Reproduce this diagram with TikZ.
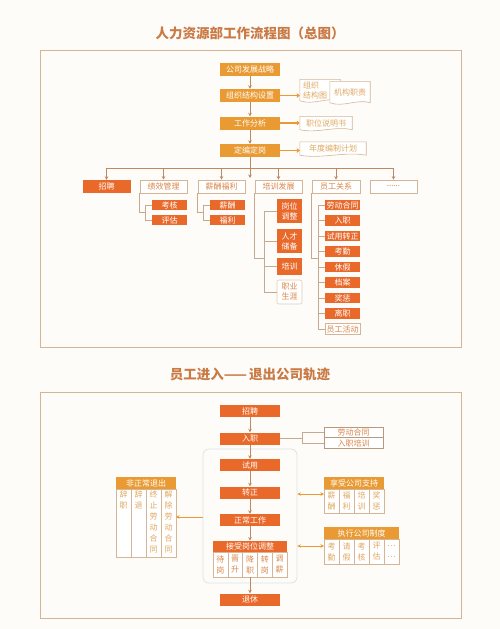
\documentclass[tikz,border=0pt]{standalone}
\usepackage{fontspec}
\setmainfont{Noto Sans CJK SC}
\usepackage{tikz}
\usetikzlibrary{arrows.meta,positioning,calc}
\definecolor{amber}{HTML}{E99A32}
\definecolor{redor}{HTML}{E8692A}
\definecolor{tanline}{HTML}{D6B596}
\definecolor{linkcol}{HTML}{C08860}
\definecolor{titlecol}{HTML}{C97A45}
\definecolor{boxtext}{HTML}{D9874A}
\definecolor{doctext}{HTML}{E0A860}
\definecolor{bgcol}{HTML}{FDFCF9}

\begin{document}
\begin{tikzpicture}[x=1pt,y=-1pt,>={Stealth[length=3.5pt,width=3.5pt]},
    every node/.style={font=\fontsize{8}{10}\selectfont,inner sep=0pt},
    ambox/.style={fill=amber,text=white,minimum width=60,minimum height=13},
    redbox/.style={fill=redor,text=white,minimum width=60,minimum height=12},
    catbox/.style={draw=tanline,fill=white,text=boxtext,minimum width=47,minimum height=13,line width=0.7pt},
    subbox/.style={fill=redor,text=white,minimum width=35,minimum height=10.5},
    docnode/.style={text=doctext,align=left},
    cell/.style={draw=tanline,fill=white,text=doctext,minimum width=15,align=center,line width=0.6pt,font=\fontsize{8}{11}\selectfont},
    frame/.style={draw=tanline,line width=0.8pt},
    link/.style={draw=linkcol,line width=0.6pt},
    tree/.style={draw=tanline!80!gray,line width=0.7pt},
    fat/.style={draw=amber,line width=1.6pt,-{Triangle[length=3pt,width=4.5pt]}}]

    \fill[bgcol] (0,0) rectangle (500,629);
    \useasboundingbox (0,0) rectangle (500,629);

    % ---- part one
    \node[text=titlecol,font=\fontsize{13.5}{15}\selectfont\bfseries] (title1) at (250,33) {人力资源部工作流程图（总图）};
    \draw[frame] (40,50) rectangle (461,347);

    \node[ambox] (strategy) at (250,69.5) {公司发展战略};
    \node[ambox] (orgset) at (250,95.5) {组织结构设置};
    \node[ambox] (jobana) at (250,123) {工作分析};
    \node[ambox] (quota) at (250,150.5) {定编定岗};

    \draw[link,->] (strategy) -- (orgset);
    \draw[link,->] (orgset) -- (jobana);
    \draw[link,->] (jobana) -- (quota);

    % documents on the right
    \node[minimum width=40,minimum height=21] (chartdoc) at (320,90) {};
    \draw[tanline,fill=white,line width=0.6pt] (chartdoc.south west) -- (chartdoc.north west) -- (chartdoc.north east) -- (chartdoc.south east) .. controls +(-13,-4) and +(13,5) .. (chartdoc.south west);
    \node[docnode] at (chartdoc) {\makebox[34pt][l]{组织}\\\makebox[34pt][l]{结构图}};
    \node[minimum width=40,minimum height=21] (dutydoc) at (350,92) {};
    \draw[tanline,fill=white,line width=0.6pt] (dutydoc.south west) -- (dutydoc.north west) -- (dutydoc.north east) -- (dutydoc.south east) .. controls +(-13,-4) and +(13,5) .. (dutydoc.south west);
    \node[docnode] at (dutydoc) {机构职责};
    \node[minimum width=52,minimum height=13] (specdoc) at (326,123) {};
    \draw[tanline,fill=white,line width=0.6pt] (specdoc.south west) -- (specdoc.north west) -- (specdoc.north east) -- (specdoc.south east) .. controls +(-17,-4) and +(17,4) .. (specdoc.south west);
    \node[docnode] at (specdoc) {职位说明书};
    \node[minimum width=66,minimum height=13] (plandoc) at (333,148.5) {};
    \draw[tanline,fill=white,line width=0.6pt] (plandoc.south west) -- (plandoc.north west) -- (plandoc.north east) -- (plandoc.south east) .. controls +(-22,-4) and +(22,4) .. (plandoc.south west);
    \node[docnode] at (plandoc) {年度编制计划};

    \draw[fat] (orgset.east) -- (chartdoc.west |- orgset.east);
    \draw[fat] (jobana.east) -- (specdoc.west |- jobana.east);
    \draw[fat] (quota.east) -- (plandoc.west |- quota.east);

    % bus to the six fields
    \coordinate (bus1) at (106.5,168);
    \coordinate (bus2) at (163.5,168);
    \coordinate (bus3) at (221.5,168);
    \coordinate (bus4) at (278.5,168);
    \coordinate (bus5) at (336,168);
    \coordinate (bus6) at (393.5,168);
    \coordinate (trunk) at (250,178);
    \draw[link] (bus1) -- (bus6);
    \draw[link,->] (quota) -- (trunk);

    \node[redbox,minimum width=48,minimum height=13] (recruit) at (106.5,186.5) {招聘};
    \node[catbox] (perf) at (163.5,186.5) {绩效管理};
    \node[catbox] (pay) at (221.5,186.5) {薪酬福利};
    \node[catbox] (train) at (278.5,186.5) {培训发展};
    \node[catbox,minimum width=48] (relation) at (336,186.5) {员工关系};
    \node[catbox] (more) at (393.5,186.5) {......};

    \draw[link,->] (bus1) -- (recruit);
    \draw[link,->] (bus2) -- (perf);
    \draw[link,->] (bus3) -- (pay);
    \draw[link,->] (bus4) -- (train);
    \draw[link,->] (bus5) -- (relation);
    \draw[link,->] (bus6) -- (more);

    % performance
    \node[subbox] (check) at (169.5,205) {考核};
    \node[subbox] (assess) at (169.5,220) {评估};
    \draw[tree] (check.west) -- ++(-6,0) |- (assess.west);
    \draw[tree] (perf.south west) |- ($(check.west)!0.5!(assess.west)+(-6,0)$);

    % pay
    \node[subbox] (salary) at (227.5,205) {薪酬};
    \node[subbox] (welfare) at (227.5,220) {福利};
    \draw[tree] (salary.west) -- ++(-6,0) |- (welfare.west);
    \draw[tree] (pay.south west) |- ($(salary.west)!0.5!(welfare.west)+(-6,0)$);

    % training
    \node[subbox,minimum width=25,minimum height=24,align=center] (postadj) at (289.5,211) {岗位\\调整};
    \node[subbox,minimum width=25,minimum height=24,align=center] (talent) at (289.5,241) {人才\\储备};
    \node[subbox,minimum width=25,minimum height=17] (course) at (289.5,266.5) {培训};
    \node[draw=tanline!70,fill=white,text=boxtext,rounded corners=2pt,minimum width=25,minimum height=24,align=center,line width=0.6pt] (career) at (289.5,292) {职业\\生涯};
    \draw[tree] (postadj.west) -- ++(-12,0) |- (career.west);
    \draw[tree] (talent.west) -- ++(-12,0);
    \draw[tree] (course.west) -- ++(-12,0);
    \draw[tree] (train.south west) |- ($(course.west)+(-12,-8.5)$);

    % employee relations
    \node[subbox] (labor) at (342.5,205) {劳动合同};
    \node[subbox] (entry) at (342.5,220.5) {入职};
    \node[subbox] (probation) at (342.5,236) {试用转正};
    \node[subbox] (attend) at (342.5,251.5) {考勤};
    \node[subbox] (leave) at (342.5,267) {休假};
    \node[subbox] (archive) at (342.5,282.5) {档案};
    \node[subbox] (reward) at (342.5,298) {奖惩};
    \node[subbox] (resign) at (342.5,313.5) {离职};
    \node[catbox,minimum width=35,minimum height=10.5] (activity) at (342.5,329) {员工活动};
    \draw[tree] (labor.west) -- ++(-6,0) |- (activity.west);
    \draw[tree] (entry.west) -- ++(-6,0);
    \draw[tree] (probation.west) -- ++(-6,0);
    \draw[tree] (attend.west) -- ++(-6,0);
    \draw[tree] (leave.west) -- ++(-6,0);
    \draw[tree] (archive.west) -- ++(-6,0);
    \draw[tree] (reward.west) -- ++(-6,0);
    \draw[tree] (resign.west) -- ++(-6,0);
    \draw[tree] (relation.south west) |- ($(attend.west)+(-6,6.5)$);

    % ---- part two
    \node[text=titlecol,font=\fontsize{13.5}{15}\selectfont\bfseries] (title2) at (250,374) {员工进入——\,退出公司轨迹};
    \draw[frame] (40,392) rectangle (461,618);

    \node[draw=black!12,rounded corners=6pt,minimum width=94,minimum height=134,line width=0.7pt] (track) at (250,516) {};

    \node[redbox] (hire) at (250,411) {招聘};
    \node[redbox] (onboard) at (250,438.5) {入职};
    \node[redbox] (trial) at (250,465) {试用};
    \node[redbox] (regular) at (250,492.5) {转正};
    \node[redbox] (work) at (250,520) {正常工作};
    \node[redbox,minimum width=74,minimum height=11.5] (adjust) at (250,546.5) {接受岗位调整};
    \node[cell,text=boxtext,minimum width=14.8,minimum height=25] (adj1) at (220.4,564.5) {待\\岗};
    \node[cell,text=boxtext,minimum width=14.8,minimum height=25] (adj2) at (235.2,564.5) {晋\\升};
    \node[cell,text=boxtext,minimum width=14.8,minimum height=25] (adj3) at (250,564.5) {降\\职};
    \node[cell,text=boxtext,minimum width=14.8,minimum height=25] (adj4) at (264.8,564.5) {转\\岗};
    \node[cell,text=boxtext,minimum width=14.8,minimum height=25] (adj5) at (279.6,564.5) {调\\薪};
    \node[redbox] (retire) at (250,599.5) {退休};

    \draw[link,->] (hire) -- (onboard);
    \draw[link,->] (onboard) -- (trial);
    \draw[link,->] (trial) -- (regular);
    \draw[link,->] (regular) -- (work);
    \draw[link,->] (work) -- (adjust);
    \draw[link,->] (adj3) -- (retire);

    % onboarding papers
    \node[draw=tanline!85!black,fill=white,text=boxtext,minimum width=59,minimum height=10.5,line width=0.6pt] (contract) at (353.5,432.5) {劳动合同};
    \node[draw=tanline!85!black,fill=white,text=boxtext,minimum width=59,minimum height=10.5,line width=0.6pt] (induction) at (353.5,443) {入职培训};
    \draw[tree] (contract.west) -- ++(-21,0) |- (induction.west);
    \draw[tree] (onboard.east) -- (303,438.5);

    % abnormal exit
    \node[fill=amber,text=white,minimum width=60,minimum height=12] (quit) at (146,483) {非正常退出};
    \node[cell,minimum height=68] (quit1) at (123.5,523) {};
    \node[cell,minimum height=68] (quit2) at (138.5,523) {};
    \node[cell,minimum height=68] (quit3) at (153.5,523) {};
    \node[cell,minimum height=68] (quit4) at (168.5,523) {};
    \node[cell,draw=none,fill=none,anchor=north] at ($(quit1.north)+(0,2)$) {辞\\职};
    \node[cell,draw=none,fill=none,anchor=north] at ($(quit2.north)+(0,2)$) {辞\\退};
    \node[cell,draw=none,fill=none,anchor=north] at ($(quit3.north)+(0,2)$) {终\\止\\劳\\动\\合\\同};
    \node[cell,draw=none,fill=none,anchor=north] at ($(quit4.north)+(0,2)$) {解\\除\\劳\\动\\合\\同};
    \coordinate (quitin) at (176,517);
    \draw[draw=amber,line width=0.6pt,->] (quitin -| track.west) -- (quitin);

    % company support
    \node[fill=amber,text=white,minimum width=60,minimum height=12] (support) at (354,483) {享受公司支持};
    \node[cell,minimum height=24] (sup1) at (331.5,501) {薪\\酬};
    \node[cell,minimum height=24] (sup2) at (346.5,501) {福\\利};
    \node[cell,minimum height=24] (sup3) at (361.5,501) {培\\训};
    \node[cell,minimum height=24] (sup4) at (376.5,501) {奖\\惩};
    \coordinate (supin) at (324,494);
    \draw[draw=amber,line width=0.6pt,<->] (supin -| track.east) -- (supin);

    % company rules
    \node[fill=amber,text=white,minimum width=75,minimum height=12] (rules) at (361.5,533) {执行公司制度};
    \node[cell,minimum height=25] (rul1) at (331.5,551.5) {考\\勤};
    \node[cell,minimum height=25] (rul2) at (346.5,551.5) {请\\假};
    \node[cell,minimum height=25] (rul3) at (361.5,551.5) {考\\核};
    \node[cell,minimum height=25] (rul4) at (376.5,551.5) {评\\估};
    \node[cell,minimum height=25] (rul5) at (391.5,551.5) {…\\…};
    \coordinate (rulin) at (324,546);
    \draw[draw=amber,line width=0.6pt,<->] (rulin -| track.east) -- (rulin);
\end{tikzpicture}
\end{document}
